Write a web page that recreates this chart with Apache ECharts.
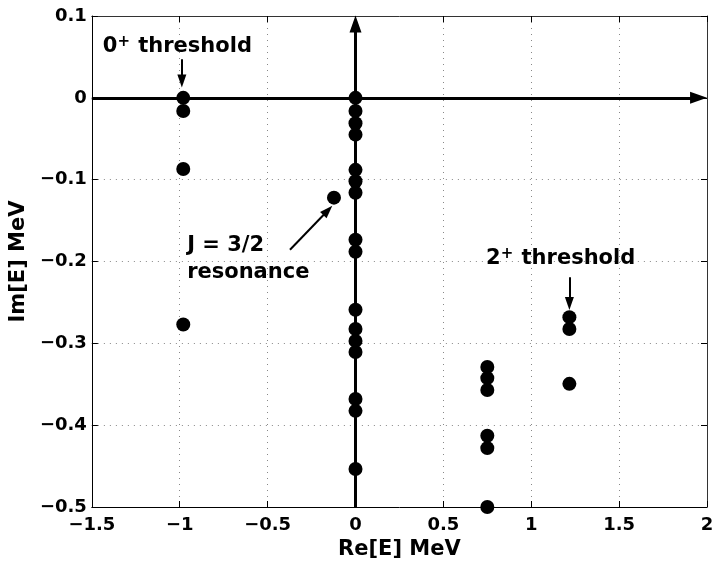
<!DOCTYPE html>
<html>
<head>
<meta charset="utf-8">
<script src="https://cdn.jsdelivr.net/npm/echarts@6/dist/echarts.min.js"></script>
<style>
  html, body { margin: 0; padding: 0; background: #fff; }
  #chart { width: 718px; height: 567px; }
</style>
</head>
<body>
<div id="chart"></div>
<script>
// poles in the complex energy plane, grouped by column
const zeroThresholdRe = -0.98
const zeroThresholdIm = [0, -0.016, -0.087, -0.277]

const realAxisRe = 0
const realAxisIm = [0, -0.016, -0.031, -0.045, -0.088, -0.102, -0.116, -0.1735, -0.188,
  -0.259, -0.2825, -0.297, -0.3105, -0.368, -0.3825, -0.4535]

const resonancePole = [-0.1225, -0.122]

const midRe = 0.75
const midIm = [-0.329, -0.3425, -0.357, -0.413, -0.428, -0.5]

const twoThresholdRe = 1.217
const twoThresholdIm = [-0.268, -0.2825, -0.3495]

const xTicks = { min: -1.5, max: 2, step: 0.5 }
const yTicks = { min: -0.5, max: 0.1, step: 0.1 }

const font = 'DejaVu Sans'

const points = []
zeroThresholdIm.forEach(v => points.push([zeroThresholdRe, v]))
realAxisIm.forEach(v => points.push([realAxisRe, v]))
points.push(resonancePole)
midIm.forEach(v => points.push([midRe, v]))
twoThresholdIm.forEach(v => points.push([twoThresholdRe, v]))

const fmt = v => String(+v.toFixed(2)).replace('-', '\u2212')

const bigHead = 'path://M6,0L12,17L0,17Z'
const smallHead = 'path://M4.5,0L9,13L0,13Z'

function arrow (from, to, head, size, width) {
  return [
    { coord: from, symbol: 'none', lineStyle: { width: width, color: '#000', type: 'solid' } },
    { coord: to, symbol: head, symbolSize: size, symbolKeepAspect: true }
  ]
}

const noteText = { color: '#000', fontFamily: font, fontWeight: 'bold', fontSize: 21, lineHeight: 24 }

function note (coord, text) {
  return {
    coord: coord,
    symbol: 'circle',
    symbolSize: 0,
    label: {
      show: true,
      position: 'right',
      distance: 0,
      formatter: text,
      color: '#000',
      fontFamily: font,
      fontWeight: 'bold',
      fontSize: 21,
      rich: {
        t: noteText,
        s: { color: '#000', fontFamily: font, fontWeight: 'bold', fontSize: 15, lineHeight: 14, verticalAlign: 'top', padding: [0, 1, 0, 0] }
      }
    }
  }
}

// mirror axes on the top and right: ticks only, like a boxed plot
function mirror (ticks, pos) {
  return {
    type: 'value',
    position: pos,
    min: ticks.min, max: ticks.max, interval: ticks.step,
    axisLine: { show: true, onZero: false, lineStyle: { color: '#333', width: 1 } },
    axisTick: { show: true, inside: true, length: 6, lineStyle: { color: '#000' } },
    axisLabel: { show: false },
    splitLine: { show: false }
  }
}

const chart = echarts.init(document.getElementById('chart'))

chart.setOption({
  animation: false,
  grid: { left: 87, right: 11, top: 16, bottom: 60 },
  xAxis: [{
    type: 'value',
    position: 'bottom',
    min: xTicks.min, max: xTicks.max, interval: xTicks.step,
    name: 'Re[E] MeV',
    nameLocation: 'middle',
    nameGap: 30,
    nameTextStyle: { color: '#000', fontFamily: font, fontWeight: 'bold', fontSize: 21 },
    axisLine: { onZero: false, lineStyle: { color: '#000', width: 1 } },
    axisTick: { inside: true, length: 6, lineStyle: { color: '#000' } },
    axisLabel: { formatter: fmt, margin: 9, color: '#000', fontFamily: font, fontWeight: 'bold', fontSize: 18 },
    splitLine: { show: true, lineStyle: { color: '#888', width: 1, type: [1, 5] } }
  }, mirror(xTicks, 'top')],
  yAxis: [{
    type: 'value',
    position: 'left',
    min: yTicks.min, max: yTicks.max, interval: yTicks.step,
    name: 'Im[E] MeV',
    nameLocation: 'middle',
    nameGap: 57,
    nameTextStyle: { color: '#000', fontFamily: font, fontWeight: 'bold', fontSize: 21 },
    axisLine: { onZero: false, lineStyle: { color: '#000', width: 1 } },
    axisTick: { inside: true, length: 6, lineStyle: { color: '#000' } },
    axisLabel: { formatter: fmt, margin: 5, color: '#000', fontFamily: font, fontWeight: 'bold', fontSize: 18 },
    splitLine: { show: true, lineStyle: { color: '#888', width: 1, type: [1, 5] } }
  }, mirror(yTicks, 'right')],
  series: [
    {
      type: 'scatter',
      xAxisIndex: 0,
      yAxisIndex: 0,
      data: points,
      symbolSize: 14,
      itemStyle: { color: '#000', opacity: 1 },
      clip: false,
      silent: true,
      z: 3,
      markLine: {
        silent: true,
        animation: false,
        label: { show: false },
        emphasis: { disabled: true },
        lineStyle: { color: '#000', type: 'solid' },
        data: [
          arrow([xTicks.min, 0], [1.952, 0], bigHead, 17, 3),
          arrow([0, yTicks.min], [0, 0.0903], bigHead, 17, 3),
          arrow([-0.988, 0.047], [-0.988, 0.0206], smallHead, 13, 2),
          arrow([-0.3727, -0.1857], [-0.1575, -0.1376], smallHead, 13, 2),
          arrow([twoThresholdRe, -0.2191], [twoThresholdRe, -0.2512], smallHead, 13, 2)
        ]
      },
      markPoint: {
        silent: true,
        animation: false,
        itemStyle: { color: 'transparent' },
        data: [
          note([-1.438, 0.0622], '{t|0}{s|+}{t| threshold}'),
          note([-0.958, -0.1802], '{t|J = 3/2}'),
          note([-0.958, -0.2132], '{t|resonance}'),
          note([0.743, -0.1967], '{t|2}{s|+}{t| threshold}')
        ]
      }
    }
  ]
})
</script>
</body>
</html>
